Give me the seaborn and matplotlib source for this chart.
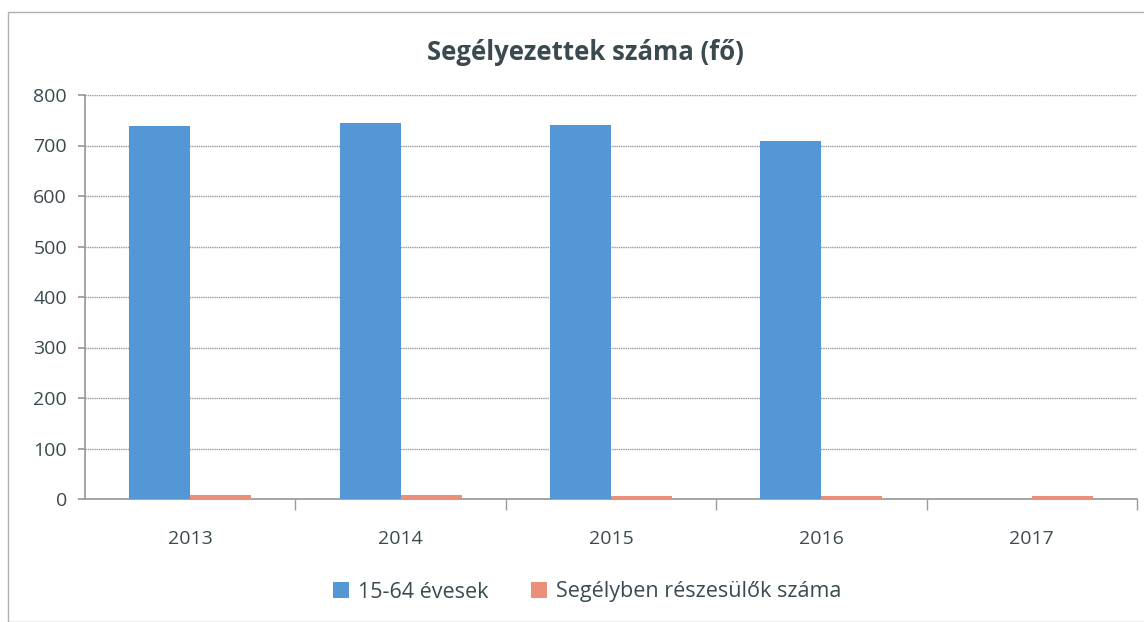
import matplotlib
matplotlib.use("Agg")
import matplotlib.pyplot as plt
import seaborn as sns
import pandas as pd
from matplotlib.patches import Rectangle

years = ["2013", "2014", "2015", "2016", "2017"]
s1_name = "15-64 évesek"
s2_name = "Segélyben részesülők száma"
s1_values = [738, 745, 740, 709, 0]
s2_values = [8, 7, 6, 6, 5]

df = pd.DataFrame({
    "year": years * 2,
    "series": [s1_name] * len(years) + [s2_name] * len(years),
    "value": s1_values + s2_values,
})

sns.set_theme(style="white")
plt.rcParams["font.family"] = ["Open Sans", "DejaVu Sans"]
text_color = "#3a4a4f"

fig = plt.figure(figsize=(11.44, 6.22), dpi=100)
ax = fig.add_axes([85/1144, 1 - 499/622, (1137-85)/1144, (499-95)/622])

palette = {s1_name: "#5397d6", s2_name: "#eb8f78"}
sns.barplot(data=df, x="year", y="value", hue="series", palette=palette,
            width=0.58, dodge=True, saturation=1, ax=ax, legend=True,
            linewidth=0, zorder=3)

ax.set_ylim(0, 800)
ax.set_xlim(-0.5, len(years) - 0.5)
ax.set_yticks(range(0, 801, 100))
ax.yaxis.grid(True, color="#9a9a9a", linewidth=1, linestyle=(0, (1, 0.6)))
ax.set_axisbelow(True)
ax.set_xlabel("")
ax.set_ylabel("")
for s in ["top", "right"]:
    ax.spines[s].set_visible(False)
ax.spines["left"].set_color("#9a9a9a")
ax.spines["bottom"].set_color("#9a9a9a")
ax.spines["bottom"].set_zorder(1)
ax.tick_params(axis="y", labelsize=14, colors=text_color, length=5, left=True, color="#9a9a9a", pad=8)
ax.tick_params(axis="x", which="major", labelsize=14, colors=text_color, length=0, pad=22)
ax.set_xticks([i + 0.5 for i in range(len(years))], minor=True)
ax.tick_params(axis="x", which="minor", length=8, color="#9a9a9a", bottom=True)

fig.text(585/1144, 1 - 52/622, "Segélyezettek száma (fő)", fontsize=18.5,
         fontweight="bold", color=text_color, ha="center", va="center")

leg = ax.legend(loc="center", bbox_to_anchor=(587/1144, 1 - 592/622), bbox_transform=fig.transFigure,
                ncol=2, frameon=False, fontsize=15.5, handlelength=0.75, handleheight=0.75,
                columnspacing=2.0, handletextpad=0.4)
for t in leg.get_texts():
    t.set_color(text_color)

fig.patches.append(Rectangle((8/1144, 0), 1.0, 1 - 12/622, transform=fig.transFigure,
                             fill=False, edgecolor="#b0b0b0", linewidth=1))

fig.savefig("out.png", dpi=100)
